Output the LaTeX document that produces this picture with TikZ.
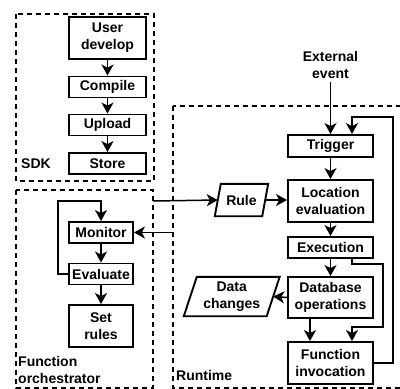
\documentclass[tikz,border=0pt]{standalone}
\usepackage{fontspec}
\setmainfont{Liberation Sans}
\usetikzlibrary{arrows.meta}

\begin{document}
\begin{tikzpicture}[x=1pt,y=-1pt]
\tikzstyle{every node}+=[inner sep=0pt, align=center, font=\bfseries\fontsize{14}{17}\selectfont]
\tikzstyle{box}=[draw, line width=1.9pt, minimum height=21pt]
\tikzstyle{para}=[line width=1.9pt]
\tikzstyle{arr}=[line width=1.5pt, -{Stealth[length=11pt,width=12pt,inset=3pt]}]
\tikzstyle{area}=[line width=1.2pt, dash pattern=on 5pt off 4pt]
\useasboundingbox (0,0) rectangle (400,389);
\draw [area] (16,14) rectangle (154,181);
\draw [area] (16,190) rectangle (153,388);
\draw [area] (173,106) rectangle (410,388);
\node [box, minimum width=77pt, minimum height=42pt] (dev) at (107.5,38) {User\\develop};
\node [box, minimum width=77pt] (comp) at (107.5,87) {Compile};
\node [box, minimum width=77pt] (upl) at (107.5,125) {Upload};
\node [box, minimum width=77pt] (sto) at (107.5,163.5) {Store};
\node [anchor=west] (sdk) at (21,164) {SDK};
\node [box, minimum width=64pt] (mon) at (101,232.5) {Monitor};
\node [box, minimum width=64pt] (eva) at (101,274) {Evaluate};
\node [box, minimum width=64pt, minimum height=42pt] (setr) at (101,326) {Set\\rules};
\node [anchor=west, align=left] (fo) at (18,370) {Function\\orchestrator};
\node [inner sep=3pt] (ext) at (330.5,65) {External\\event};
\node [box, minimum width=85pt, minimum height=22pt] (trig) at (330.5,146) {Trigger};
\node [box, minimum width=85pt, minimum height=42pt] (loc) at (330.5,201) {Location\\evaluation};
\node [box, minimum width=85pt] (exe) at (330.5,247.5) {Execution};
\node [box, minimum width=85pt, minimum height=41pt] (dbop) at (330.5,297.5) {Database\\operations};
\node [box, minimum width=85pt, minimum height=42pt] (inv) at (330.5,363) {Function\\invocation};
\node [minimum width=47pt, minimum height=32pt] (rule) at (241.5,200) {Rule};
\node [minimum width=82.5pt, minimum height=39pt] (dch) at (231.75,296.5) {Data\\changes};
\node [anchor=west] (rt) at (176,375) {Runtime};
\draw [para] ([xshift=-3pt]rule.south west) -- ([xshift=3pt]rule.north west) -- ([xshift=3pt]rule.north east) -- ([xshift=-3pt]rule.south east) -- cycle;
\draw [para] ([xshift=-6.5pt]dch.south west) -- ([xshift=6.5pt]dch.north west) -- ([xshift=6.5pt]dch.north east) -- ([xshift=-6.5pt]dch.south east) -- cycle;
\coordinate (foe) at (153,201);
\coordinate (rte) at (173,232.5);
\coordinate (fol) at (58,201);
\coordinate (tl) at (352,117);
\coordinate (el) at (352,264);
\draw [arr] (dev) -- (comp);
\draw [arr] (comp) -- (upl);
\draw [arr] (upl) -- (sto);
\draw [arr] (mon) -- (eva);
\draw [arr] (eva) -- (setr);
\draw [arr] (eva.west) -- (eva.west -| fol) -- (fol) -- (fol -| mon.north) -- (mon.north);
\draw [arr] (rte) -- (mon.east);
\draw [arr] (foe) -- (rule.west);
\draw [arr] (rule.east) -- (rule.east -| loc.west);
\draw [arr] (ext) -- (trig);
\draw [arr] (trig) -- (loc);
\draw [arr] (loc) -- (exe);
\draw [arr] (exe) -- (dbop);
\draw [arr] (dbop.west) -- (dch.east);
\draw [arr] (dbop.south -| 310,0) -- (inv.north -| 310,0);
\draw [arr] (inv.east) -- (393,363) -- (393,117) -- (tl) -- (tl |- trig.north);
\draw [arr] (exe.south -| el) -- (el) -- (383,264) -- (383,327) -- (352,327) -- (el |- inv.north);
\end{tikzpicture}
\end{document}
